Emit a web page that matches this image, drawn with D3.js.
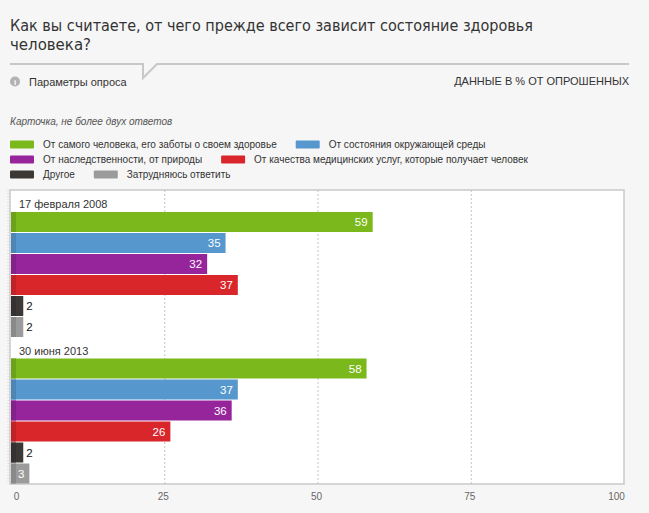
<!DOCTYPE html>
<html>
<head>
<meta charset="utf-8">
<script src="https://cdn.jsdelivr.net/npm/d3@7"></script>
<style>
  html, body { margin: 0; padding: 0; background: #f6f6f6; }
  svg { display: block; font-family: Arial, "Liberation Sans", Helvetica, sans-serif; }
</style>
</head>
<body>
<div id="chart"></div>
<script>
// Данные опроса (в % от опрошенных)
const titleLines = ['Как вы считаете, от чего прежде всего зависит состояние здоровья', 'человека?'];
const dates = ['17 февраля 2008', '30 июня 2013'];
const answers = [
    'От самого человека, его заботы о своем здоровье',
    'От состояния окружающей среды',
    'От наследственности, от природы',
    'От качества медицинских услуг, которые получает человек',
    'Другое',
    'Затрудняюсь ответить'
];
const values2008 = [59, 35, 32, 37, 2, 2];
const values2013 = [58, 37, 36, 26, 2, 3];
const ticks = [0, 25, 50, 75, 100];

const palette = ['#7ab81b', '#5698ce', '#96259c', '#d9262b', '#3b3836', '#9b9b9b'];

const width = 649, height = 513;
const svg = d3.select('#chart').append('svg')
    .attr('width', width)
    .attr('height', height);

// Заголовок
const titleWidths = [523, 81];
titleLines.forEach((line, i) => {
    svg.append('text')
        .attr('x', 10)
        .attr('y', 31 + i * 19)
        .attr('fill', '#333')
        .attr('textLength', titleWidths[i])
        .attr('lengthAdjust', 'spacingAndGlyphs')
        .style('font-family', '"Liberation Sans Narrow", "DejaVu Sans Condensed", Arial, sans-serif')
        .style('font-size', '16.5px')
        .text(line);
});

// Линия с "хвостиком"
svg.append('path')
    .attr('d', 'M10,64 H143 V78 L157,64 H629')
    .attr('fill', 'none')
    .attr('stroke', '#c8c8c8')
    .attr('stroke-width', 2);

svg.append('circle')
    .attr('cx', 15).attr('cy', 81.5).attr('r', 5)
    .attr('fill', '#b3b3b3');
svg.append('text')
    .attr('x', 15).attr('y', 84.5)
    .attr('text-anchor', 'middle')
    .attr('fill', '#fff')
    .style('font-size', '8px')
    .style('font-weight', 'bold')
    .text('i');

svg.append('text')
    .attr('x', 29).attr('y', 85.5)
    .attr('fill', '#333')
    .style('font-size', '11px')
    .text('Параметры опроса');

svg.append('text')
    .attr('x', 629).attr('y', 85)
    .attr('text-anchor', 'end')
    .attr('fill', '#333')
    .style('font-size', '11px')
    .text('ДАННЫЕ В % ОТ ОПРОШЕННЫХ');

svg.append('text')
    .attr('x', 10).attr('y', 125)
    .attr('fill', '#555')
    .style('font-size', '10px')
    .style('font-style', 'italic')
    .text('Карточка, не более двух ответов');

// Легенда: по две позиции в строке
const legend = svg.append('g');
answers.forEach((name, i) => {
    const row = Math.floor(i / 2);
    const cy = 144.5 + row * 15;
    let x0 = 10;
    if (i % 2 === 1) {
        const prev = legend.select(`#leg-text-${i - 1}`).node();
        x0 = 43 + prev.getComputedTextLength() + 19;
    }
    legend.append('rect')
        .attr('x', x0).attr('y', cy - 4)
        .attr('width', 24).attr('height', 8)
        .attr('rx', 1)
        .attr('fill', palette[i]);
    legend.append('text')
        .attr('id', `leg-text-${i}`)
        .attr('x', x0 + 33).attr('y', cy + 3.5)
        .attr('fill', '#333')
        .style('font-size', '10px')
        .text(name);
});

// Область графика
const plotTop = 190, plotBottom = 484;
const x = d3.scaleLinear().domain([0, 100]).range([11, 624]);

svg.append('rect')
    .attr('x', 10).attr('y', plotTop)
    .attr('width', 624 - 10).attr('height', plotBottom - plotTop)
    .attr('fill', '#fff')
    .attr('stroke', '#c9c9c9')
    .attr('stroke-width', 1.5);

svg.append('line')
    .attr('x1', 8).attr('x2', 8)
    .attr('y1', plotTop).attr('y2', plotBottom)
    .attr('stroke', '#cfcfcf')
    .attr('stroke-dasharray', '1,2');

svg.selectAll('.grid')
    .data(ticks.slice(1, -1))
    .enter()
    .append('line')
    .attr('class', 'grid')
    .attr('x1', d => x(d) + 0.5).attr('x2', d => x(d) + 0.5)
    .attr('y1', plotTop).attr('y2', plotBottom)
    .attr('stroke', '#c4c4c4')
    .attr('stroke-dasharray', '2,2');

const groupY = d3.scaleBand().domain(dates).range([plotTop, plotBottom - 1]);
const barY = d3.scaleBand().domain(answers).range([22, 147]).paddingInner(1 / 21);

const groups = [
    {date: dates[0], values: values2008},
    {date: dates[1], values: values2013}
];

groups.forEach(group => {
    const g = svg.append('g')
        .attr('transform', `translate(0, ${groupY(group.date)})`);

    g.append('text')
        .attr('x', 19).attr('y', 18)
        .attr('fill', '#333')
        .style('font-size', '11px')
        .text(group.date);

    group.values.forEach((v, i) => {
        const y0 = barY(answers[i]);
        const bh = barY.bandwidth();
        const w = x(v) - x(0);
        g.append('rect')
            .attr('x', x(0)).attr('y', y0)
            .attr('width', w).attr('height', bh)
            .attr('fill', palette[i]);
        g.append('rect')
            .attr('x', x(0)).attr('y', y0)
            .attr('width', 5).attr('height', bh)
            .attr('fill', d3.color(palette[i]).darker(0.35));

        const label = g.append('text')
            .attr('y', y0 + bh / 2 + 4)
            .style('font-size', '11.5px')
            .text(v);
        const tw = label.node().getComputedTextLength();
        if (w - 6 >= tw + 5) {
            label.attr('x', x(v) - 5)
                .attr('text-anchor', 'end')
                .attr('fill', '#fff');
        } else {
            label.attr('x', x(v) + 3)
                .attr('fill', '#111');
        }
    });
});

// Ось
const axis = svg.append('g')
    .attr('transform', `translate(0, ${plotBottom})`)
    .call(d3.axisBottom(x).tickValues(ticks).tickSize(0).tickPadding(9));
axis.select('.domain').remove();
axis.selectAll('text')
    .attr('fill', '#666')
    .style('font-size', '10px')
    .style('font-family', 'Arial, "Liberation Sans", sans-serif');
axis.selectAll('.tick text')
    .attr('dx', d => d === 0 ? 5 : (d === 100 ? -8 : -1.5));
</script>
</body>
</html>
